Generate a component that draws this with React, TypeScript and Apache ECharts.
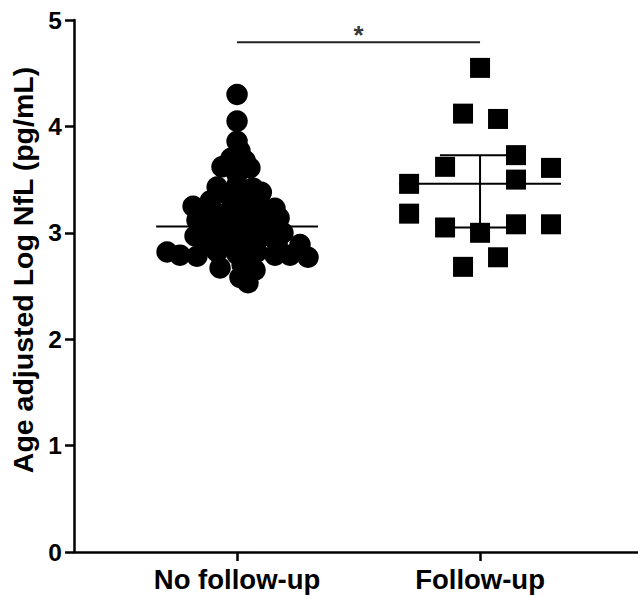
import React, { useEffect, useRef } from "react";
import * as echarts from "echarts";

// Category labels (x positions 0 and 1)
const categories = ["No follow-up", "Follow-up"];
const yTicks = [0, 1, 2, 3, 4, 5];

// "No follow-up" group: horizontal jitter (category units) and values
const noFollowJitter = [
  0, 0, 0, 0.012, -0.025, 0.033,
  -0.062, 0.053, 0,
  -0.082, 0.066, 0, -0.033, 0.041,
  -0.181, -0.103, 0, 0.082, 0.156,
  -0.165, -0.074, 0.021, 0.103, 0.173,
  -0.123, -0.033, 0.062, 0.144,
  -0.173, -0.082, 0.008, 0.091, 0.189,
  -0.123, -0.033, 0.062, 0.165, 0.259,
  -0.288, -0.235, -0.165, -0.082, 0, 0.082, 0.156, 0.218, 0.292,
  -0.07, 0.021, 0.074,
  0.012, 0.045,
  -0.05, 0.04, -0.12, 0.12, 0.03, -0.06, 0.1, -0.11,
];
const noFollowValues = [
  4.3, 4.05, 3.86, 3.77, 3.7, 3.68,
  3.62, 3.61, 3.55,
  3.43, 3.42, 3.45, 3.35, 3.33,
  3.25, 3.22, 3.25, 3.28, 3.23,
  3.12, 3.14, 3.12, 3.16, 3.14,
  3.05, 3.04, 3.06, 3.03,
  2.97, 2.96, 2.97, 2.95, 3.0,
  2.88, 2.9, 2.88, 2.9, 2.89,
  2.82, 2.79, 2.78, 2.82, 2.8, 2.82, 2.79, 2.79, 2.77,
  2.67, 2.7, 2.65,
  2.58, 2.53,
  3.18, 3.2, 2.92, 2.98, 2.86, 3.1, 3.38, 3.3,
];

// "Follow-up" group
const followJitter = [0, -0.07, 0.074, 0.148, -0.144, 0.292, -0.292, 0.148, -0.292, -0.144, 0, 0.148, 0.292, 0.074, -0.07];
const followValues = [4.55, 4.12, 4.07, 3.73, 3.62, 3.61, 3.46, 3.5, 3.18, 3.05, 3.0, 3.08, 3.08, 2.77, 2.68];

// Summary statistics
const noFollowMean = 3.06;
const followMean = 3.46;
const followSdLow = 3.05;
const followSdHigh = 3.73;

// Significance bracket
const sigLevel = 4.79;
const sigLabel = "*";

const FONT = "'Liberation Sans', Arial, sans-serif";

export default function App() {
  const ref = useRef<HTMLDivElement>(null);

  useEffect(() => {
    if (!ref.current) return;
    const chart = echarts.init(ref.current, undefined, { renderer: "svg" });

    const meanHalf = 0.333;
    const capHalf = 0.165;
    const seg = (name: string, pts: number[][], color = "#000") => ({
      name,
      type: "line",
      data: pts,
      symbol: "none",
      lineStyle: { color, width: 2 },
      z: 1,
      silent: true,
    });

    chart.setOption({
      animation: false,
      grid: { left: 74, right: 0, top: 20, bottom: 46, containLabel: false, outerBoundsMode: "none" },
      xAxis: {
        type: "value",
        min: -0.671,
        max: 1.65,
        splitLine: { show: false },
        axisLine: { show: true, onZero: false, lineStyle: { color: "#000", width: 2.5 } },
        axisTick: { show: true, customValues: [0, 1], length: 9, lineStyle: { color: "#000", width: 2.5 } },
        axisLabel: {
          customValues: [0, 1],
          formatter: (v: number) => categories[Math.round(v)],
          fontSize: 27.5,
          fontWeight: "bold",
          fontFamily: FONT,
          color: "#000",
          margin: 13,
        },
      },
      yAxis: {
        type: "value",
        min: 0,
        max: 5,
        interval: 1,
        name: "Age adjusted Log NfL (pg/mL)",
        nameLocation: "middle",
        nameGap: 36,
        nameTextStyle: {
          fontSize: 28.5,
          fontWeight: "bold",
          fontFamily: FONT,
          color: "#000",
          padding: [0, 0, 0, 32],
        },
        splitLine: { show: false },
        axisLine: { show: true, onZero: false, lineStyle: { color: "#000", width: 2.5 } },
        axisTick: { show: true, length: 9, lineStyle: { color: "#000", width: 2.5 } },
        axisLabel: {
          formatter: (v: number) => (yTicks.includes(v) ? String(v) : ""),
          fontSize: 24.5,
          fontWeight: "bold",
          fontFamily: FONT,
          color: "#000",
          margin: 12,
        },
      },
      series: [
        seg("meanNo", [[-meanHalf, noFollowMean], [meanHalf, noFollowMean]]),
        seg("meanFU", [[1 - meanHalf, followMean], [1 + meanHalf, followMean]]),
        seg("sdFU", [[1, followSdLow], [1, followSdHigh]]),
        seg("capHi", [[1 - capHalf, followSdHigh], [1 + capHalf, followSdHigh]]),
        seg("capLo", [[1 - capHalf, followSdLow], [1 + capHalf, followSdLow]]),
        seg("sig", [[0, sigLevel], [1, sigLevel]], "#222"),
        {
          name: categories[0],
          type: "scatter",
          symbol: "circle",
          symbolSize: 21.5,
          itemStyle: { color: "#000", opacity: 1 },
          data: noFollowValues.map((v, i) => [0 + noFollowJitter[i], v]),
          z: 3,
        },
        {
          name: categories[1],
          type: "scatter",
          symbol: "rect",
          symbolSize: 20,
          itemStyle: { color: "#000", opacity: 1 },
          data: followValues.map((v, i) => [1 + followJitter[i], v]),
          z: 3,
        },
        {
          name: "sigStar",
          type: "scatter",
          symbolSize: 0,
          data: [[0.5, sigLevel]],
          label: {
            show: true,
            formatter: sigLabel,
            position: "top",
            distance: 0,
            offset: [0, 6],
            fontSize: 26,
            fontWeight: "bold",
            fontFamily: FONT,
            color: "#000",
          },
          z: 4,
          silent: true,
        },
      ],
    });

    return () => chart.dispose();
  }, []);

  return (
    <div
      ref={ref}
      style={{ position: "fixed", left: 0, top: 0, width: 638, height: 598, background: "#fff" }}
    />
  );
}
